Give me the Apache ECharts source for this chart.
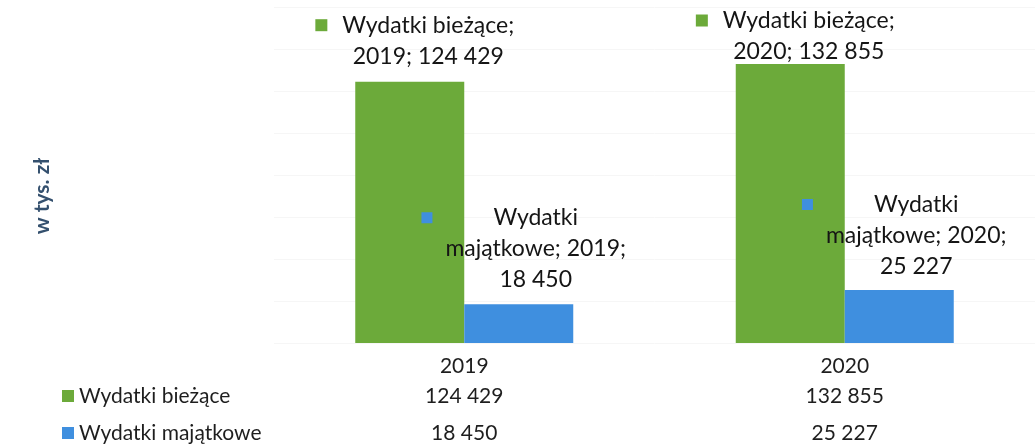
<!DOCTYPE html>
<html><head><meta charset="utf-8">
<script src="https://cdn.jsdelivr.net/npm/echarts@6/dist/echarts.min.js"></script>
<style>html,body{margin:0;padding:0;background:#fff}#c{width:1035px;height:447px}</style>
</head><body><div id="c"></div>
<script>
// ---- data ----
const years = ['2019', '2020'];
const seriesNames = ['Wydatki bieżące', 'Wydatki majątkowe'];
const biezace = [124429, 132855];
const majatkowe = [18450, 25227];
const axisTitle = 'w tys. zł';

// ---- styles ----
const GREEN = '#6caa3a';
const BLUE = '#3f8fdf';
const FONT = 'Lato';
const greenLabelDist = [10, -3];
const blueLabelDist = [9, 8];

function fmt(v) { return String(v).replace(/\B(?=(\d{3})+(?!\d))/g, ' '); }

function richFor(color, keySize, gap) {
  return {
    k: { width: keySize, height: keySize, backgroundColor: color, align: 'left' },
    g: { width: gap, align: 'left' },
    s: { width: keySize + gap, align: 'left' },
    t: { fontFamily: FONT, fontSize: 23, color: '#151515', lineHeight: 31, align: 'center' }
  };
}

const greenData = biezace.map((v, i) => ({
  value: v,
  label: { distance: greenLabelDist[i] }
}));
const blueData = majatkowe.map((v, i) => ({
  value: v,
  label: { distance: blueLabelDist[i] }
}));

const chart = echarts.init(document.getElementById('c'), null, { renderer: 'canvas' });
chart.setOption({
  animation: false,
  backgroundColor: '#ffffff',
  grid: { left: 274, right: -3, top: 7, bottom: 104, containLabel: false },
  legend: {
    orient: 'vertical', left: 62, top: 385, padding: 0,
    itemWidth: 12, itemHeight: 12, itemGap: 15, icon: 'rect',
    selectedMode: false,
    textStyle: { fontFamily: FONT, fontSize: 21, color: '#1e1e1e', lineHeight: 22 },
    data: seriesNames
  },
  xAxis: {
    type: 'category', data: years,
    axisLine: { show: false }, axisTick: { show: false },
    axisLabel: {
      margin: 10,
      formatter: (val, idx) => '{h|' + val + '}\n{a|' + fmt(biezace[idx]) + '}\n{b|' + fmt(majatkowe[idx]) + '}',
      rich: {
        h: { fontFamily: FONT, fontSize: 21, color: '#1e1e1e', lineHeight: 26 },
        a: { fontFamily: FONT, fontSize: 21, color: '#1e1e1e', lineHeight: 34 },
        b: { fontFamily: FONT, fontSize: 21, color: '#1e1e1e', lineHeight: 40 }
      }
    }
  },
  yAxis: {
    type: 'value', min: 0, max: 160000, interval: 20000,
    axisLabel: { show: false }, axisLine: { show: false }, axisTick: { show: false },
    splitLine: { lineStyle: { color: '#f6f6f6', width: 1 } }
  },
  graphic: [{
    type: 'text', x: 42, y: 196, rotation: Math.PI / 2,
    style: { text: axisTitle, align: 'center', verticalAlign: 'middle',
      fontFamily: FONT, fontWeight: 'bold', fontSize: 21, fill: '#34506e' }
  }],
  series: [{
    name: seriesNames[0], type: 'bar', data: greenData,
    barWidth: 109, barGap: '0%',
    itemStyle: { color: GREEN },
    label: {
      show: true, position: 'top', offset: [5, 0],
      formatter: p => '{k|}{g|}{t|' + p.seriesName + ';}\n{s|}{t|' + p.name + '; ' + fmt(p.value) + '}',
      rich: richFor(GREEN, 12, 15)
    }
  }, {
    name: seriesNames[1], type: 'bar', data: blueData,
    barWidth: 109, barGap: '0%',
    itemStyle: { color: BLUE },
    label: {
      show: true, position: 'top', offset: [5, 0],
      formatter: p => {
        const parts = p.seriesName.split(' ');
        return '{k|}{g|}{t|' + parts[0] + '}\n{s|}{t|' + parts.slice(1).join(' ') + '; ' + p.name + ';}\n{s|}{t|' + fmt(p.value) + '}';
      },
      rich: richFor(BLUE, 11, 13)
    }
  }]
});
</script>
</body></html>
